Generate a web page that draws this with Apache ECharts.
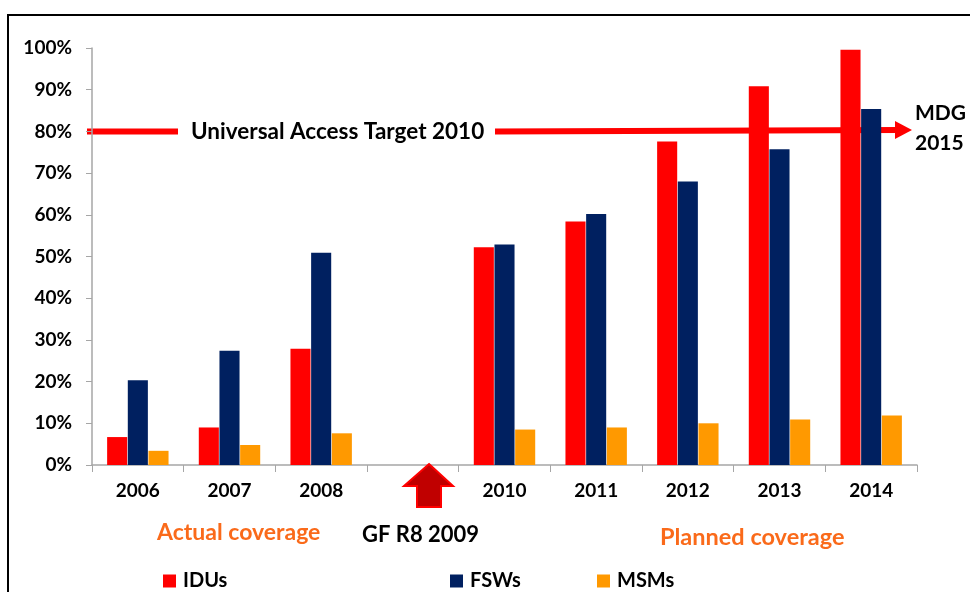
<!DOCTYPE html>
<html>
<head>
    <meta charset="UTF-8">
    <title>Coverage</title>
    <script src="https://cdn.jsdelivr.net/npm/echarts@6/dist/echarts.min.js"></script>
    <style>
        html, body { margin: 0; padding: 0; background: #fff; }
        #main { width: 970px; height: 592px; }
    </style>
</head>
<body>
<div id="main"></div>
<script>
    // data
    var years = ['2006', '2007', '2008', '', '2010', '2011', '2012', '2013', '2014'];
    var idus = [6.7, 9.0, 27.9, null, 52.2, 58.4, 77.6, 90.8, 99.6];
    var fsws = [20.3, 27.4, 50.9, null, 52.9, 60.2, 68.0, 75.7, 85.4];
    var msms = [3.4, 4.8, 7.6, null, 8.5, 9.0, 10.0, 10.9, 11.9];
    var yTicks = [0, 10, 20, 30, 40, 50, 60, 70, 80, 90, 100];
    var target = 80;

    var font = 'Lato, "Open Sans", sans-serif';
    var chart = echarts.init(document.getElementById('main'));

    function legendAt(name, left) {
        return {
            data: [name], left: left, top: 566, icon: 'rect',
            itemWidth: 13, itemHeight: 13,
            textStyle: { fontFamily: font, fontWeight: 'bold', fontSize: 20, color: '#000', padding: [0, 0, 0, 2] }
        };
    }

    var option = {
        backgroundColor: '#fff',
        animation: false,
        grid: { left: 92, right: 53, top: 48, bottom: 127 },
        legend: [legendAt('IDUs', 158), legendAt('FSWs', 445), legendAt('MSMs', 592)],
        xAxis: {
            type: 'category',
            data: years,
            axisLine: { lineStyle: { color: '#a6a6a6', width: 1.5 } },
            axisTick: { show: true, length: 7, lineStyle: { color: '#a6a6a6' } },
            axisLabel: { margin: 16, fontFamily: font, fontWeight: 'bold', fontSize: 19, color: '#000' }
        },
        yAxis: {
            type: 'value', min: 0, max: 100, interval: 10,
            splitLine: { show: false },
            axisLine: { show: true, lineStyle: { color: '#a6a6a6', width: 1.5 } },
            axisTick: { show: true, length: 6, lineStyle: { color: '#a6a6a6' } },
            axisLabel: {
                margin: 20, fontFamily: font, fontWeight: 'bold', fontSize: 19, color: '#000',
                formatter: function (v) { return yTicks.indexOf(v) >= 0 ? v + '%' : ''; }
            }
        },
        series: [
            { name: 'IDUs', type: 'bar', data: idus, barGap: '3%', barCategoryGap: '33%',
              itemStyle: { color: '#ff0000' } },
            { name: 'FSWs', type: 'bar', data: fsws, itemStyle: { color: '#002060' } },
            { name: 'MSMs', type: 'bar', data: msms, itemStyle: { color: '#ff9900' } }
        ]
    };
    chart.setOption(option);

    // annotations
    var ty = chart.convertToPixel({ yAxisIndex: 0 }, target);
    var lineStyle = { stroke: '#ff0000', lineWidth: 6 };
    var bold = function (text, x, y, color, size) {
        return {
            type: 'text', x: x, y: y, z: 10,
            style: { text: text, fill: color, font: 'bold ' + size + 'px ' + font, textAlign: 'left', textVerticalAlign: 'middle', lineHeight: 30 }
        };
    };
    chart.setOption({
        graphic: [
            { type: 'rect', shape: { x: 8, y: 15, width: 1000, height: 700 }, style: { fill: null, stroke: '#000', lineWidth: 2 }, z: 0 },
            { type: 'line', shape: { x1: 87, y1: ty, x2: 178, y2: ty }, style: lineStyle, z: 0 },
            { type: 'line', shape: { x1: 495, y1: ty, x2: 898, y2: ty - 1.5 }, style: lineStyle, z: 0 },
            { type: 'polygon', shape: { points: [[895, ty - 10.5], [912, ty - 1.5], [895, ty + 7.5]] }, style: { fill: '#ff0000' }, z: 0 },
            bold('Universal Access Target 2010', 191, ty, '#000', 22.5),
            bold('MDG\n2015', 915, 128, '#000', 21),
            {
                type: 'polygon', z: 10,
                shape: { points: [[429, 464], [453, 486], [441, 486], [441, 507], [417, 507], [417, 486], [404, 486]] },
                style: { fill: '#c00000', stroke: '#ff0000', lineWidth: 2 }
            },
            bold('Actual coverage', 157, 533, '#fa6a1a', 23),
            bold('GF R8 2009', 362, 535, '#000', 22),
            bold('Planned coverage', 660, 537, '#fa6a1a', 23.5)
        ]
    });
</script>
</body>
</html>
